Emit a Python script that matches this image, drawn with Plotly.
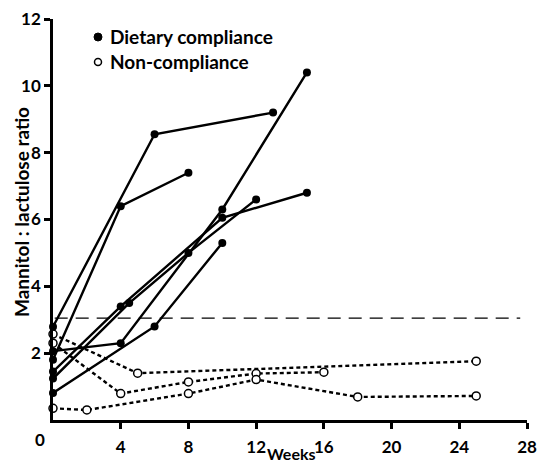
import plotly.graph_objects as go

# ---- data ----
comp_weeks = [
    [0, 6, 13],
    [0, 4, 8],
    [0, 4, 10, 15],
    [0, 4, 10, 15],
    [0, 4.5, 8, 12],
    [0, 6, 10],
]
comp_values = [
    [2.79, 8.55, 9.2],
    [1.80, 6.4, 7.4],
    [2.06, 2.3, 6.3, 10.4],
    [1.45, 3.4, 6.05, 6.8],
    [1.24, 3.5, 5.0, 6.6],
    [0.81, 2.8, 5.3],
]
noncomp_weeks = [
    [0, 5, 25],
    [0, 4, 8, 12, 16],
    [0, 2, 8, 12, 18, 25],
]
noncomp_values = [
    [2.57, 1.4, 1.76],
    [2.30, 0.79, 1.14, 1.39, 1.43],
    [0.35, 0.30, 0.79, 1.21, 0.69, 0.72],
]
threshold_weeks = [0.1, 27.6]
threshold_value = 3.05
x_ticks = [4, 8, 12, 16, 20, 24, 28]
y_ticks = [2, 4, 6, 8, 10, 12]
legend_labels = ["Dietary compliance", "Non-compliance"]

FONT = "Lato"
OFF = 8  # page body margin offset
W, H = 550 - OFF, 464 - OFF
PLOT_L, PLOT_R, PLOT_T, PLOT_B = 53, 527, 19, 420  # page pixels
ML, MT = PLOT_L - OFF, PLOT_T - OFF
W_plot = PLOT_R - PLOT_L
H_plot = PLOT_B - PLOT_T
MR = W - ML - W_plot
MB = H - MT - H_plot


def px(x):
    # page pixel x -> paper coordinate
    return (x - PLOT_L) / W_plot


def py(y):
    # page pixel y -> paper coordinate
    return (PLOT_B - y) / H_plot


fig = go.Figure()

# threshold dashed line
fig.add_trace(go.Scatter(
    x=threshold_weeks, y=[threshold_value] * len(threshold_weeks),
    mode="lines", line=dict(color="black", width=1.4, dash="13px,8px"),
    showlegend=False, hoverinfo="skip"))

for wk, val in zip(noncomp_weeks, noncomp_values):
    fig.add_trace(go.Scatter(
        x=wk, y=val, mode="lines+markers", name=legend_labels[1],
        line=dict(color="black", width=2.4, dash="4px,3px"),
        marker=dict(symbol="circle", size=8, color="white",
                    line=dict(color="black", width=1.5)),
        showlegend=False, cliponaxis=False))

for wk, val in zip(comp_weeks, comp_values):
    fig.add_trace(go.Scatter(
        x=wk, y=val, mode="lines+markers", name=legend_labels[0],
        line=dict(color="black", width=2.4),
        marker=dict(symbol="circle", size=8, color="black"),
        showlegend=False, cliponaxis=False))

axis_common = dict(
    showgrid=False, zeroline=False, showline=True, linecolor="black",
    linewidth=2.5, ticks="outside", ticklen=6, tickwidth=2.5, tickcolor="black",
    automargin=False, ticklabeloverflow="allow",
    tickfont=dict(family=FONT, size=17, color="black", weight="bold"),
)

bold = lambda s: dict(family=FONT, size=s, color="black", weight="bold")

annotations = [
    dict(text="0", x=px(40), y=py(439), font=bold(17)),
    dict(text="Weeks", x=px(291), y=py(453), font=bold(16)),
    dict(text="Mannitol : lactulose ratio", x=px(21), y=py(212),
         textangle=-90, font=bold(19)),
    dict(text=legend_labels[0], x=px(108), y=py(37), xanchor="left", font=bold(19)),
    dict(text=legend_labels[1], x=px(108), y=py(62), xanchor="left", font=bold(19)),
]
for a in annotations:
    a.setdefault("xanchor", "center")
    a.update(xref="paper", yref="paper", showarrow=False, yanchor="middle")

shapes = [
    dict(type="circle", xref="paper", yref="paper",
         x0=px(94), x1=px(102), y0=py(33), y1=py(41),
         fillcolor="black", line=dict(color="black", width=1)),
    dict(type="circle", xref="paper", yref="paper",
         x0=px(94.5), x1=px(101.5), y0=py(58.5), y1=py(65.5),
         fillcolor="white", line=dict(color="black", width=1.5)),
]

fig.update_layout(
    width=W, height=H,
    margin=dict(l=ML, r=MR, t=MT, b=MB),
    paper_bgcolor="white", plot_bgcolor="white",
    font=dict(family=FONT, color="black"),
    showlegend=False,
    xaxis=dict(range=[0, 28], tickvals=x_ticks, ticklabelstandoff=4, **axis_common),
    yaxis=dict(range=[0, 12], tickvals=y_ticks, **axis_common),
    annotations=annotations,
    shapes=shapes,
)

fig.write_html("out.html")
